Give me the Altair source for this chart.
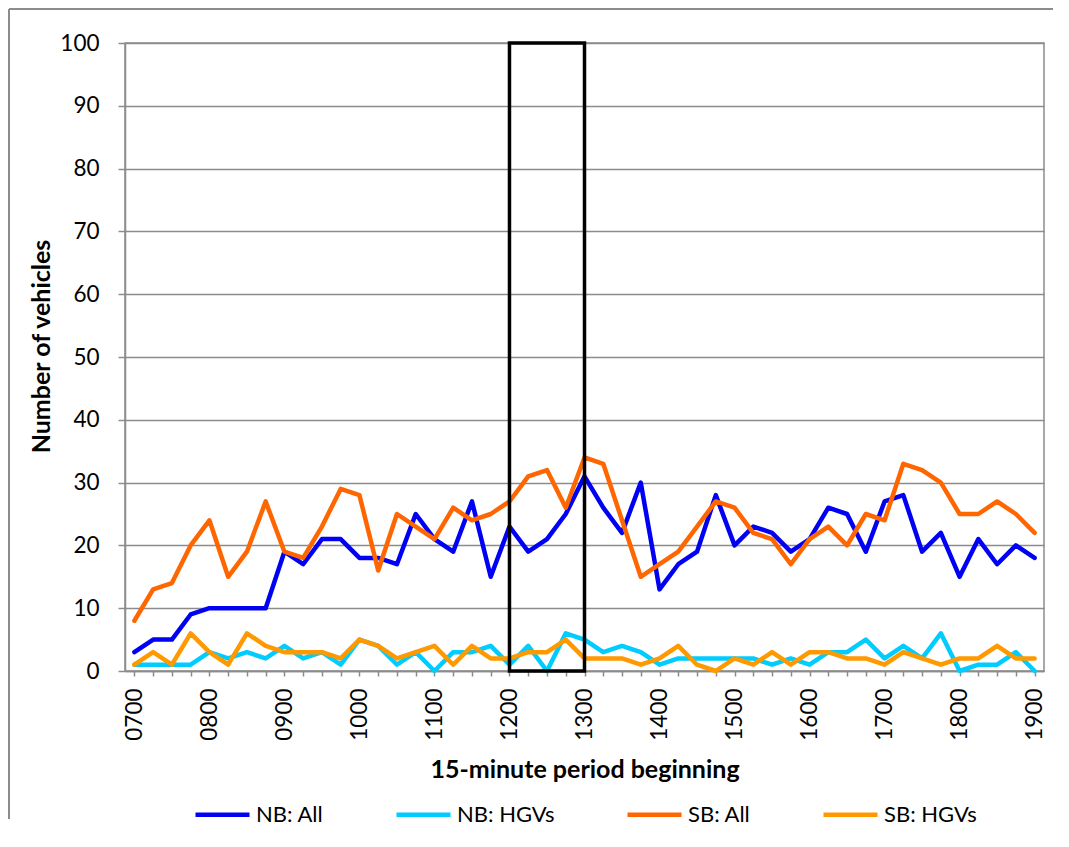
import altair as alt
import pandas as pd

periods = ["0700", "0715", "0730", "0745", "0800", "0815", "0830", "0845",
           "0900", "0915", "0930", "0945", "1000", "1015", "1030", "1045",
           "1100", "1115", "1130", "1145", "1200", "1215", "1230", "1245",
           "1300", "1315", "1330", "1345", "1400", "1415", "1430", "1445",
           "1500", "1515", "1530", "1545", "1600", "1615", "1630", "1645",
           "1700", "1715", "1730", "1745", "1800", "1815", "1830", "1845",
           "1900"]

nb_all = [3, 5, 5, 9, 10, 10, 10, 10, 19, 17, 21, 21, 18, 18, 17, 25,
          21, 19, 27, 15, 23, 19, 21, 25, 31, 26, 22, 30, 13, 17, 19, 28,
          20, 23, 22, 19, 21, 26, 25, 19, 27, 28, 19, 22, 15, 21, 17, 20, 18]
nb_hgv = [1, 1, 1, 1, 3, 2, 3, 2, 4, 2, 3, 1, 5, 4, 1, 3,
          0, 3, 3, 4, 1, 4, 0, 6, 5, 3, 4, 3, 1, 2, 2, 2,
          2, 2, 1, 2, 1, 3, 3, 5, 2, 4, 2, 6, 0, 1, 1, 3, 0]
sb_all = [8, 13, 14, 20, 24, 15, 19, 27, 19, 18, 23, 29, 28, 16, 25, 23,
          21, 26, 24, 25, 27, 31, 32, 26, 34, 33, 24, 15, 17, 19, 23, 27,
          26, 22, 21, 17, 21, 23, 20, 25, 24, 33, 32, 30, 25, 25, 27, 25, 22]
sb_hgv = [1, 3, 1, 6, 3, 1, 6, 4, 3, 3, 3, 2, 5, 4, 2, 3,
          4, 1, 4, 2, 2, 3, 3, 5, 2, 2, 2, 1, 2, 4, 1, 0,
          2, 1, 3, 1, 3, 3, 2, 2, 1, 3, 2, 1, 2, 2, 4, 2, 2]

series_names = ["NB: All", "NB: HGVs", "SB: All", "SB: HGVs"]
series_colors = ["#0000F5", "#00CCFF", "#FF6600", "#FF9900"]
series_values = [nb_all, nb_hgv, sb_all, sb_hgv]

highlight_start = ["1200"]
highlight_end = ["1300"]
highlight_low = [0]
highlight_high = [100]

rows = []
for name, vals in zip(series_names, series_values):
    for p, v in zip(periods, vals):
        rows.append({"period": p, "series": name, "value": v})
df = pd.DataFrame(rows)

box_df = pd.DataFrame({"x": highlight_start, "x2": highlight_end,
                       "y": highlight_low, "y2": highlight_high})

FONT = "Lato"
GRAY = "#8c8c8c"
W, H = 919, 628

x_scale = alt.Scale(type="point", padding=0.5, domain=periods)
y_scale = alt.Scale(domain=[0, 100], nice=False)

x_enc = alt.X(
    "period:N", sort=periods, scale=x_scale,
    axis=alt.Axis(
        title="15-minute period beginning",
        labelAngle=270,
        labelExpr="substring(datum.label, 2, 4) == '00' ? datum.label : ''",
        labelOverlap=False, labelBound=False, labelFlush=False,
        labelPadding=12, tickSize=5, tickColor=GRAY, domainColor=GRAY,
        domainWidth=1.5, tickWidth=1.5,
        labelFont=FONT, labelFontSize=22.5, labelColor="black",
        titleFont=FONT, titleFontSize=25, titleFontWeight="bold", titleColor="black",
        titleY=98, titleBaseline="middle", grid=False,
    ),
)
y_enc = alt.Y(
    "value:Q", scale=y_scale,
    axis=alt.Axis(
        title="Number of vehicles",
        values=list(range(0, 101, 10)),
        grid=True, gridColor=GRAY, gridWidth=1.5,
        domainColor=GRAY, domainWidth=1.5, tickColor=GRAY, tickWidth=1.5,
        tickSize=7, labelPadding=19,
        labelFont=FONT, labelFontSize=22.5, labelColor="black",
        titleFont=FONT, titleFontSize=25, titleFontWeight="bold", titleColor="black",
        titleAngle=270, titleX=-84, titleY=303, titleAlign="center",
        titleBaseline="middle",
    ),
)
color_enc = alt.Color(
    "series:N",
    scale=alt.Scale(domain=series_names, range=series_colors),
    legend=alt.Legend(
        title=None, orient="none", direction="horizontal",
        legendX=68, legendY=742, padding=0,
        columnPadding=63, symbolType="stroke", symbolSize=2916,
        symbolStrokeWidth=4.5, labelOffset=4,
        labelFont=FONT, labelFontSize=22, labelColor="black",
    ),
)

base = alt.Chart(df)

box = alt.Chart(box_df).mark_rect(
    fillOpacity=0, stroke="black", strokeWidth=3.5
).encode(
    x=alt.X("x:N", scale=x_scale, sort=periods),
    x2="x2:N",
    y=alt.Y("y:Q", scale=y_scale),
    y2="y2:Q",
)

lines = []
for name in series_names:
    lines.append(
        base.transform_filter(alt.datum.series == name)
        .mark_line(strokeWidth=4.5, strokeCap="round", strokeJoin="round")
        .encode(x=x_enc, y=y_enc, color=color_enc)
    )

frame_df = pd.DataFrame({"a": [0]})
frame_left = alt.Chart(frame_df).mark_rule(color=GRAY, strokeWidth=2).encode(
    x=alt.value(-116), y=alt.value(-34), y2=alt.value(776)
)
frame_top = alt.Chart(frame_df).mark_rule(color=GRAY, strokeWidth=2).encode(
    x=alt.value(-116), x2=alt.value(928), y=alt.value(-34)
)

chart = alt.layer(frame_left, frame_top, *lines, box).properties(
    width=W, height=H, padding=0
).configure_view(stroke=GRAY, strokeWidth=1.5)

chart.save("out.html", embed_options={"renderer": "svg", "actions": False})
